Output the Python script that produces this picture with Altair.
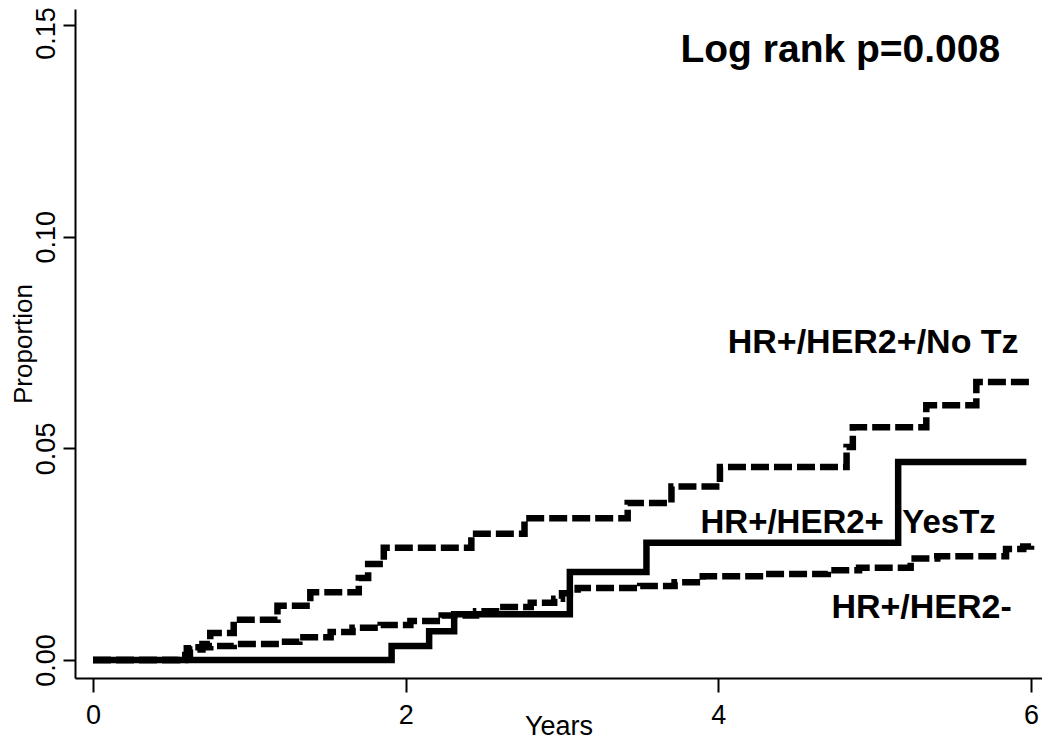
import altair as alt
import pandas as pd

# --- data ---
notz_t = [0, 0.59, 0.62, 0.70, 0.75, 0.90, 1.18, 1.39, 1.70, 1.76, 1.86, 2.42, 2.76, 3.42, 3.70, 4.01, 4.82, 4.86, 5.33, 5.65, 5.99]
notz_p = [0, 0.0012, 0.0025, 0.0038, 0.0064, 0.0095, 0.0128, 0.0160, 0.0194, 0.0227, 0.0265, 0.0298, 0.0335, 0.0371, 0.0410, 0.0456, 0.0503, 0.0550, 0.0602, 0.0657, 0.0657]

yestz_t = [0, 1.91, 2.15, 2.31, 3.05, 3.54, 5.15, 5.97]
yestz_p = [0, 0.0033, 0.0068, 0.0108, 0.0208, 0.0277, 0.0468, 0.0468]

neg_t = [0, 0.54, 0.60, 0.65, 0.75, 0.90, 1.20, 1.32, 1.52, 1.66, 1.84, 2.03, 2.23, 2.45, 2.60, 2.80, 2.95, 3.00, 3.10, 3.50, 3.72, 3.90, 4.30, 4.70, 4.90, 5.23, 5.40, 5.84, 5.95, 6.00]
neg_p = [0, 0.0007, 0.0028, 0.0030, 0.0033, 0.0038, 0.0043, 0.0054, 0.0066, 0.0076, 0.0083, 0.0092, 0.0105, 0.0115, 0.0125, 0.0135, 0.0145, 0.0158, 0.0170, 0.0175, 0.0184, 0.0198, 0.0203, 0.0212, 0.0218, 0.0240, 0.0245, 0.0262, 0.0268, 0.0270]

series_names = ["HR+/HER2+/No Tz", "HR+/HER2+ YesTz", "HR+/HER2-"]

label_texts = ["HR+/HER2+/No Tz", "HR+/HER2+\u00a0\u00a0YesTz", "HR+/HER2-"]
label_x = [4.99, 4.83, 5.30]
label_y = [0.0749, 0.0323, 0.0123]
label_size = [34, 33, 34]

note_text = ["Log rank p=0.008"]
note_x = [4.78]
note_y = [0.1441]

x_ticks = [0, 2, 4, 6]
y_ticks = [0, 0.05, 0.10, 0.15]

rows = []
for name, ts, ps in zip(series_names, [notz_t, yestz_t, neg_t], [notz_p, yestz_p, neg_p]):
    for i, (t, p) in enumerate(zip(ts, ps)):
        rows.append({"series": name, "t": t, "p": p, "order": i})
df = pd.DataFrame(rows)

labels = pd.DataFrame({"text": label_texts, "t": label_x, "p": label_y, "size": label_size})
notes = pd.DataFrame({"text": note_text, "t": note_x, "p": note_y})

FONT = "Liberation Sans"

xscale = alt.Scale(domain=[-0.1151, 6.07], nice=False, zero=False)
yscale = alt.Scale(domain=[-0.00425, 0.1538], nice=False, zero=False)

xaxis = alt.Axis(values=x_ticks, format="d", title="Years", grid=False,
                 tickSize=14, tickWidth=2, domainWidth=2, domainColor="black", tickColor="black",
                 labelFontSize=27, labelFont=FONT, labelColor="black", labelPadding=10,
                 titleFontSize=27, titleFont=FONT, titleFontWeight="normal", titleColor="black",
                 titleBaseline="alphabetic", titleY=56)
yaxis = alt.Axis(values=y_ticks, format=".2f", title="Proportion", grid=False,
                 tickSize=12, tickWidth=2, domainWidth=2, domainColor="black", tickColor="black",
                 labelFontSize=27, labelFont=FONT, labelColor="black", labelAngle=270,
                 labelAlign="center", labelBaseline="bottom", labelPadding=3,
                 labelOffset=alt.condition("datum.value >= 0.149", alt.value(8), alt.value(0)),
                 titleFontSize=26, titleFont=FONT, titleFontWeight="normal", titleColor="black",
                 titleX=-39)

lines = alt.Chart(df).mark_line(interpolate="step-after", strokeWidth=6.5, color="black", strokeCap="butt").encode(
    x=alt.X("t:Q", scale=xscale, axis=xaxis),
    y=alt.Y("p:Q", scale=yscale, axis=yaxis),
    detail="series:N",
    order="order:Q",
    strokeDash=alt.StrokeDash("series:N", scale=alt.Scale(domain=series_names, range=[[18, 5], [1, 0], [18, 5]]), legend=None),
)

lab = alt.Chart(labels).mark_text(font=FONT, fontWeight="bold", color="black", align="center", baseline="middle").encode(
    x=alt.X("t:Q", scale=xscale),
    y=alt.Y("p:Q", scale=yscale),
    text="text:N",
    size=alt.Size("size:Q", scale=None, legend=None),
)

note = alt.Chart(notes).mark_text(font=FONT, fontWeight="bold", color="black", align="center", baseline="middle", fontSize=39).encode(
    x=alt.X("t:Q", scale=xscale),
    y=alt.Y("p:Q", scale=yscale),
    text="text:N",
)

chart = alt.layer(lines, lab, note).properties(
    width=967, height=669,
    padding={"left": 67, "top": 1, "right": 0, "bottom": 62},
    autosize=alt.AutoSizeParams(type="none"),
    background="white",
).configure_view(stroke=None)

chart.save("out.html", embed_options={"renderer": "svg", "actions": False})
